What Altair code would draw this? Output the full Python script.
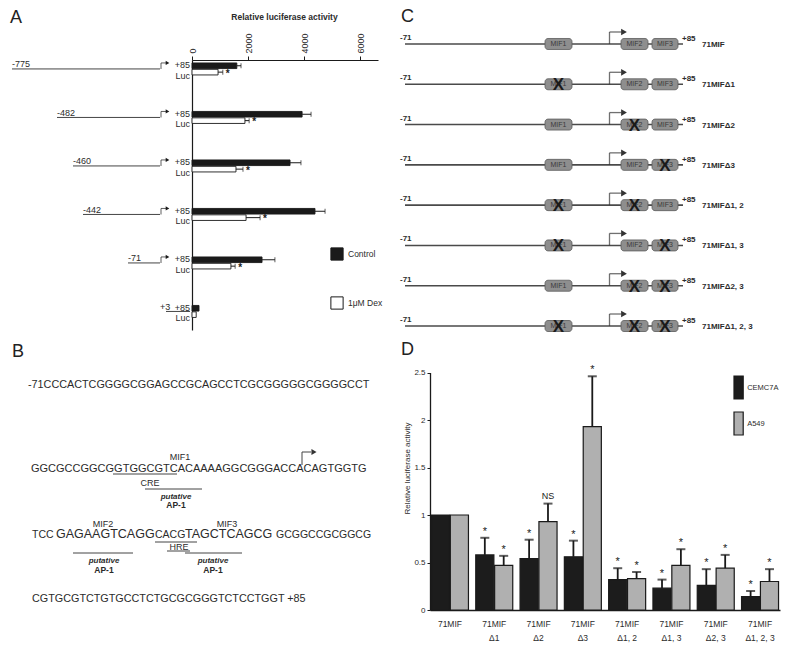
import altair as alt
import pandas as pd

M = 8
def P(v):
    return v - M

W, H = 784, 642
FONT = "Liberation Sans"
INK = "#1a1a1a"
TXT = "#2b2b2b"

# ---------------- Panel A data ----------------
a_constructs = ["-775", "-482", "-460", "-442", "-71", "+3"]
a_treatments = ["Control", "1μM Dex"]
a_control = [1600, 3930, 3500, 4390, 2500, 250]
a_control_hi = [1750, 4250, 3890, 4750, 2960, 250]
a_dex = [930, 1890, 1570, 1930, 1390, 150]
a_dex_hi = [1100, 2040, 1820, 2430, 1540, 150]
a_dex_sig = ["*", "*", "*", "*", "*", ""]
a_ticks = [0, 2000, 4000, 6000]

# ---------------- Panel D data ----------------
d_categories = ["71MIF", "71MIF|Δ1", "71MIF|Δ2", "71MIF|Δ3",
                "71MIF|Δ1, 2", "71MIF|Δ1, 3", "71MIF|Δ2, 3", "71MIF|Δ1, 2, 3"]
d_cells = ["CEMC7A", "A549"]
d_cem = [1.0, 0.58, 0.54, 0.56, 0.32, 0.23, 0.26, 0.14]
d_cem_hi = [1.0, 0.76, 0.74, 0.73, 0.44, 0.32, 0.43, 0.20]
d_cem_sig = ["", "*", "*", "*", "*", "*", "*", "*"]
d_a549 = [1.0, 0.47, 0.93, 1.93, 0.33, 0.47, 0.44, 0.30]
d_a549_hi = [1.0, 0.57, 1.12, 2.46, 0.40, 0.64, 0.58, 0.43]
d_a549_sig = ["", "*", "NS", "*", "*", "*", "*", "*"]
d_ticks = [0, 0.5, 1, 1.5, 2, 2.5]

# ---------------- Panel C data ----------------
c_constructs = ["71MIF", "71MIFΔ1", "71MIFΔ2", "71MIFΔ3",
                "71MIFΔ1, 2", "71MIFΔ1, 3", "71MIFΔ2, 3", "71MIFΔ1, 2, 3"]
c_elements = ["MIF1", "MIF2", "MIF3"]
c_deleted = [[], ["MIF1"], ["MIF2"], ["MIF3"], ["MIF1", "MIF2"],
             ["MIF1", "MIF3"], ["MIF2", "MIF3"], ["MIF1", "MIF2", "MIF3"]]

# ---------------- Panel B text ----------------
b_seq1 = "-71CCCACTCGGGGCGGAGCCGCAGCCTCGCGGGGGCGGGGCCT"
b_seq2 = "GGCGCCGGCGGTGGCGTCACAAAAGGCGGGACCACAGTGGTG"
b_seq3 = ["TCC", "GAGAAGTCAGG", "CACG", "TAGCTCAGCG", "GCGGCCGCGGCG"]
b_seq4 = "CGTGCGTCTGTGCCTCTGCGCGGGTCTCCTGGT +85"

# ---------------- layout (pixels) ----------------
a_line_start = [12, 57, 73, 83, 128, 166]
a_line_end = [160, 160, 160, 160, 160, 190]
a_label_x = [12, 57, 73, 83, 128, 160]
a_has_promoter = [1, 1, 1, 1, 1, 0]
c_elem_px = {"MIF1": (545, 572), "MIF2": (621, 648), "MIF3": (652, 678)}

layers = []

# ---------------- Panel letters ----------------
letters = pd.DataFrame({"t": ["A", "B", "C", "D"],
                        "x": [P(10), P(12), P(401), P(401)],
                        "y": [P(23), P(357), P(22), P(355)]})
layers.append(alt.Chart(letters).mark_text(align="left", baseline="alphabetic", fontSize=18,
                                           color="#222", font=FONT).encode(
    x=alt.X("x:Q", scale=None, axis=None), y=alt.Y("y:Q", scale=None, axis=None), text="t:N"))

# ================= Panel A =================
a_rows = []
for i, c in enumerate(a_constructs):
    a_rows.append({"construct": c, "treatment": a_treatments[0], "value": a_control[i],
                   "hi": a_control_hi[i], "sig": ""})
    a_rows.append({"construct": c, "treatment": a_treatments[1], "value": a_dex[i],
                   "hi": a_dex_hi[i], "sig": a_dex_sig[i]})
a_df = pd.DataFrame(a_rows)

ax_scale = alt.Scale(domain=[0, 6640], range=[P(192), P(378)], nice=False)
ay_scale = alt.Scale(type="band", domain=a_constructs, range=[P(60), P(330)], paddingInner=0.753,
                     paddingOuter=0.16, align=0.19)
ayo_scale = alt.Scale(type="band", domain=a_treatments, range=[0, 12], paddingInner=0.12,
                      paddingOuter=0)

def aY(axis=None):
    return alt.Y("construct:N", scale=ay_scale, axis=axis, sort=None)

def aYO():
    return alt.YOffset("treatment:N", scale=ayo_scale, sort=None)

a_xaxis = alt.Axis(orient="top", offset=-P(60), values=a_ticks, format="d", labelAngle=270,
                   labelAlign="left", labelBaseline="middle", labelFontSize=9, labelColor=TXT,
                   labelPadding=3, tickSize=4, tickColor=INK, domainColor=INK, domainWidth=1.2,
                   grid=False, title="Relative luciferase activity", titleFontSize=8.5,
                   titleFontWeight="bold", titleColor=TXT, titleX=P(284), titleY=P(19) - P(60),
                   titleAlign="center", titleBaseline="alphabetic", titleAngle=0)
a_yaxis = alt.Axis(orient="left", offset=-P(192), labels=False, ticks=False, title=None,
                   grid=False, domainColor=INK, domainWidth=1.2)

a_legend = alt.Legend(orient="none", legendX=P(330), legendY=P(247), title=None,
                      symbolType="square", symbolSize=150, symbolStrokeColor=INK,
                      symbolStrokeWidth=1, rowPadding=31, labelFontSize=8.5, labelColor=TXT,
                      labelOffset=4, padding=0, labelFont=FONT)

layers.append(alt.Chart(a_df).mark_bar(stroke=INK, strokeWidth=0.9).encode(
    x=alt.X("value:Q", scale=ax_scale, axis=a_xaxis),
    y=aY(a_yaxis), yOffset=aYO(),
    fill=alt.Fill("treatment:N", scale=alt.Scale(domain=a_treatments, range=[INK, "#ffffff"]),
                  legend=a_legend, sort=None)))

a_err_base = alt.Chart(a_df).transform_filter("datum.hi > datum.value")
layers.append(a_err_base.mark_rule(color=INK, strokeWidth=1).encode(
    x=alt.X("value:Q", scale=ax_scale, axis=None), x2="hi:Q", y=aY(), yOffset=aYO()))
layers.append(a_err_base.mark_tick(orient="vertical", size=5, thickness=1, color=INK).encode(
    x=alt.X("hi:Q", scale=ax_scale, axis=None), y=aY(), yOffset=aYO()))
layers.append(alt.Chart(a_df).transform_filter("datum.sig != ''").mark_text(
    align="left", baseline="middle", dx=3, dy=1.5, fontSize=10, fontWeight="bold", color=INK,
    font=FONT).encode(
    x=alt.X("hi:Q", scale=ax_scale, axis=None), y=aY(), yOffset=aYO(), text="sig:N"))

# construct diagrams left of the axis
a_diag = pd.DataFrame({"construct": a_constructs,
                       "x0": [P(v) for v in a_line_start],
                       "x1": [P(v) for v in a_line_end],
                       "lx": [P(v) for v in a_label_x],
                       "prom": a_has_promoter})
ad = alt.Chart(a_diag)
layers.append(ad.mark_rule(color="#444", strokeWidth=1).encode(
    x=alt.X("x0:Q", scale=None, axis=None), x2="x1:Q", y=aY()))
layers.append(ad.mark_text(align="left", baseline="alphabetic", dy=-1.5, fontSize=9, color=TXT,
                           font=FONT).encode(
    x=alt.X("lx:Q", scale=None, axis=None), y=aY(), text="construct:N"))
layers.append(ad.mark_text(align="right", baseline="alphabetic", dy=-0.5, fontSize=9, color=TXT,
                           font=FONT).encode(
    x=alt.value(P(190)), y=aY(), text=alt.value("+85")))
layers.append(ad.mark_text(align="right", baseline="alphabetic", dy=10, fontSize=9, color=TXT,
                           font=FONT).encode(
    x=alt.value(P(190)), y=aY(), text=alt.value("Luc")))
adp = ad.transform_filter("datum.prom == 1")
layers.append(adp.mark_tick(orient="vertical", size=6, thickness=1, color=INK, yOffset=-3).encode(
    x=alt.value(P(161)), y=aY()))
layers.append(adp.mark_tick(orient="horizontal", size=5, thickness=1, color=INK, yOffset=-6).encode(
    x=alt.value(P(163.5)), y=aY()))
layers.append(adp.mark_point(shape="triangle-right", size=18, filled=True, color=INK, opacity=1,
                             yOffset=-6).encode(x=alt.value(P(167.5)), y=aY()))

# ================= Panel C =================
c_scale = alt.Scale(type="band", domain=c_constructs, range=[P(44) - 20.15, P(326) + 20.15],
                    paddingInner=0, paddingOuter=0)

def cY():
    return alt.Y("construct:N", scale=c_scale, axis=None, sort=None)

c_rows_df = pd.DataFrame({"construct": c_constructs})
cr = alt.Chart(c_rows_df)
layers.append(cr.mark_rule(color="#4a4a4a", strokeWidth=1.6).encode(
    x=alt.value(P(405)), x2=alt.value(P(683)), y=cY()))

c_box_rows = []
for i, c in enumerate(c_constructs):
    for e in c_elements:
        x0, x1 = c_elem_px[e]
        c_box_rows.append({"construct": c, "element": e, "x0": P(x0), "x1": P(x1),
                           "xc": P((x0 + x1) / 2), "deleted": int(e in c_deleted[i])})
c_box_df = pd.DataFrame(c_box_rows)
cb = alt.Chart(c_box_df)
layers.append(cb.mark_bar(size=11, cornerRadius=3, fill="#8e8e8e", stroke="#5a5a5a",
                          strokeWidth=0.8).encode(
    x=alt.X("x0:Q", scale=None, axis=None), x2="x1:Q", y=cY()))
layers.append(cb.mark_text(fontSize=7, color="#3a3a3a", baseline="middle", font=FONT).encode(
    x=alt.X("xc:Q", scale=None, axis=None), y=cY(), text="element:N"))
layers.append(cb.transform_filter("datum.deleted == 1").mark_text(
    fontSize=17, fontWeight="bold", color="#1a1a1a", baseline="middle", dy=1, font=FONT).encode(
    x=alt.X("xc:Q", scale=None, axis=None), y=cY(), text=alt.value("X")))

layers.append(cr.mark_tick(orient="vertical", size=12, thickness=1.3, color="#333",
                           yOffset=-6).encode(x=alt.value(P(609.5)), y=cY()))
layers.append(cr.mark_tick(orient="horizontal", size=12, thickness=1.3, color="#333",
                           yOffset=-12).encode(x=alt.value(P(615.5)), y=cY()))
layers.append(cr.mark_point(shape="triangle-right", size=45, filled=True, color="#333", opacity=1,
                            yOffset=-12).encode(x=alt.value(P(624)), y=cY()))
layers.append(cr.mark_text(align="left", baseline="alphabetic", dy=-4, fontSize=8,
                           fontWeight="bold", color=TXT, font=FONT).encode(
    x=alt.value(P(400)), y=cY(), text=alt.value("-71")))
layers.append(cr.mark_text(align="left", baseline="alphabetic", dy=-3, fontSize=8,
                           fontWeight="bold", color=TXT, font=FONT).encode(
    x=alt.value(P(682)), y=cY(), text=alt.value("+85")))
layers.append(cr.mark_text(align="left", baseline="alphabetic", dy=3, fontSize=8,
                           fontWeight="bold", color=TXT, font=FONT).encode(
    x=alt.value(P(702)), y=cY(), text="construct:N"))

# ================= Panel B =================
b_text = pd.DataFrame([
    {"t": b_seq1, "x": P(28), "y": P(388), "s": 10.8},
    {"t": b_seq2, "x": P(31), "y": P(472), "s": 11},
    {"t": b_seq3[0], "x": P(32), "y": P(538), "s": 10.5},
    {"t": b_seq3[1], "x": P(56), "y": P(538), "s": 12.5},
    {"t": b_seq3[2], "x": P(155), "y": P(538), "s": 10.5},
    {"t": b_seq3[3], "x": P(185), "y": P(538), "s": 12.5},
    {"t": b_seq3[4], "x": P(276), "y": P(538), "s": 10.5},
    {"t": b_seq4, "x": P(32), "y": P(602), "s": 10.8},
])
layers.append(alt.Chart(b_text).mark_text(align="left", baseline="alphabetic", color=TXT,
                                          font=FONT).encode(
    x=alt.X("x:Q", scale=None, axis=None), y=alt.Y("y:Q", scale=None, axis=None),
    size=alt.Size("s:Q", scale=None, legend=None), text="t:N"))

b_labels = pd.DataFrame([
    {"t": "MIF1", "x": P(180), "y": P(460)},
    {"t": "CRE", "x": P(150), "y": P(486)},
    {"t": "MIF2", "x": P(103), "y": P(527)},
    {"t": "MIF3", "x": P(227), "y": P(527)},
    {"t": "HRE", "x": P(179), "y": P(550)},
])
layers.append(alt.Chart(b_labels).mark_text(align="center", baseline="alphabetic", fontSize=9,
                                            color=TXT, font=FONT).encode(
    x=alt.X("x:Q", scale=None, axis=None), y=alt.Y("y:Q", scale=None, axis=None), text="t:N"))

b_put = pd.DataFrame([
    {"x": P(176), "y1": P(499), "y2": P(508)},
    {"x": P(104), "y1": P(563), "y2": P(573)},
    {"x": P(213), "y1": P(563), "y2": P(573)},
])
layers.append(alt.Chart(b_put).mark_text(align="center", baseline="alphabetic", fontSize=8,
                                         fontWeight="bold", fontStyle="italic", color=TXT,
                                         font=FONT).encode(
    x=alt.X("x:Q", scale=None, axis=None), y=alt.Y("y1:Q", scale=None, axis=None),
    text=alt.value("putative")))
layers.append(alt.Chart(b_put).mark_text(align="center", baseline="alphabetic", fontSize=8.5,
                                         fontWeight="bold", color=TXT, font=FONT).encode(
    x=alt.X("x:Q", scale=None, axis=None), y=alt.Y("y2:Q", scale=None, axis=None),
    text=alt.value("AP-1")))

b_rules = pd.DataFrame([
    {"x0": P(113), "x1": P(177), "y": P(474)},
    {"x0": P(145), "x1": P(202), "y": P(489)},
    {"x0": P(155), "x1": P(197), "y": P(542)},
    {"x0": P(167), "x1": P(190), "y": P(551)},
    {"x0": P(73), "x1": P(133), "y": P(553)},
    {"x0": P(185), "x1": P(242), "y": P(553)},
    {"x0": P(302), "x1": P(311), "y": P(452)},
])
layers.append(alt.Chart(b_rules).mark_rule(color="#444", strokeWidth=1).encode(
    x=alt.X("x0:Q", scale=None, axis=None), x2="x1:Q", y=alt.Y("y:Q", scale=None, axis=None)))
b_vert = pd.DataFrame([{"x": P(302), "y0": P(465), "y1": P(452)}])
layers.append(alt.Chart(b_vert).mark_rule(color="#444", strokeWidth=1).encode(
    x=alt.X("x:Q", scale=None, axis=None), y=alt.Y("y0:Q", scale=None, axis=None), y2="y1:Q"))
b_head = pd.DataFrame([{"x": P(314), "y": P(452)}])
layers.append(alt.Chart(b_head).mark_point(shape="triangle-right", size=35, filled=True,
                                           color="#333", opacity=1).encode(
    x=alt.X("x:Q", scale=None, axis=None), y=alt.Y("y:Q", scale=None, axis=None)))

# ================= Panel D =================
d_rows = []
for i, c in enumerate(d_categories):
    d_rows.append({"cat": c, "cell": "CEMC7A", "value": d_cem[i], "hi": d_cem_hi[i],
                   "sig": d_cem_sig[i]})
    d_rows.append({"cat": c, "cell": "A549", "value": d_a549[i], "hi": d_a549_hi[i],
                   "sig": d_a549_sig[i]})
d_df = pd.DataFrame(d_rows)

dx_scale = alt.Scale(type="band", domain=d_categories, range=[P(430), P(780)],
                     paddingInner=0.165, paddingOuter=0.033)
dxo_scale = alt.Scale(type="band", domain=d_cells, paddingInner=0.04, paddingOuter=0)
dy_scale = alt.Scale(domain=[0, 2.5], range=[P(610), P(372.5)], nice=False)

d_xaxis = alt.Axis(orient="bottom", offset=-(H - P(610)), labelExpr="split(datum.label, '|')",
                   labelLineHeight=14, ticks=False, labelPadding=9, labelFontSize=8.5,
                   labelColor=TXT, labelAngle=0, labelBaseline="top", domainColor=INK,
                   domainWidth=1.3, title=None, grid=False, labelOverlap=False, labelFont=FONT)
d_yaxis = alt.Axis(orient="left", offset=-P(430), values=d_ticks, format="~g", tickSize=3,
                   tickColor=INK, labelFontSize=8, labelPadding=2, labelColor=TXT,
                   domainColor=INK, domainWidth=1.3, grid=False,
                   title="Relative luciferase activity", titleFontSize=8,
                   titleFontWeight="normal", titleColor=TXT, titleX=-19, titleY=P(468),
                   titleAngle=270, titleAlign="center", titleBaseline="bottom", labelFont=FONT,
                   titleFont=FONT)
d_legend = alt.Legend(orient="none", legendX=P(733) - 13.8, legendY=P(375), title=None,
                      symbolType="M0.2,-1H1V1H0.2Z", symbolSize=529,
                      symbolStrokeColor=INK, symbolStrokeWidth=1.2, rowPadding=7,
                      labelFontSize=7.5, labelColor=TXT, labelOffset=3, padding=0,
                      labelFont=FONT)

def dX(axis=None):
    return alt.X("cat:N", scale=dx_scale, axis=axis, sort=None)

def dXO():
    return alt.XOffset("cell:N", scale=dxo_scale, sort=None)

layers.append(alt.Chart(d_df).mark_bar(stroke=INK, strokeWidth=1.2).encode(
    x=dX(d_xaxis), xOffset=dXO(),
    y=alt.Y("value:Q", scale=dy_scale, axis=d_yaxis),
    fill=alt.Fill("cell:N", scale=alt.Scale(domain=d_cells, range=["#1c1c1c", "#b0b0b0"]),
                  legend=d_legend, sort=None)))
d_err = alt.Chart(d_df).transform_filter("datum.hi > datum.value")
layers.append(d_err.mark_rule(color=INK, strokeWidth=1.8).encode(
    x=dX(), xOffset=dXO(), y=alt.Y("value:Q", scale=dy_scale, axis=None), y2="hi:Q"))
layers.append(d_err.mark_tick(orient="horizontal", size=9, thickness=2, color=INK).encode(
    x=dX(), xOffset=dXO(), y=alt.Y("hi:Q", scale=dy_scale, axis=None)))
layers.append(alt.Chart(d_df).transform_filter("datum.sig == '*'").mark_text(
    baseline="alphabetic", dy=-3, fontSize=11, color=INK, font=FONT).encode(
    x=dX(), xOffset=dXO(), y=alt.Y("hi:Q", scale=dy_scale, axis=None), text="sig:N"))
layers.append(alt.Chart(d_df).transform_filter("datum.sig == 'NS'").mark_text(
    baseline="alphabetic", dy=-5, fontSize=9, color=INK, font=FONT).encode(
    x=dX(), xOffset=dXO(), y=alt.Y("hi:Q", scale=dy_scale, axis=None), text="sig:N"))

chart = alt.layer(*layers).resolve_scale(
    x="independent", y="independent", xOffset="independent", yOffset="independent",
    fill="independent", size="independent"
).resolve_axis(x="independent", y="independent").resolve_legend(fill="independent").properties(
    width=W, height=H, padding=0, autosize=alt.AutoSizeParams(type="none")
).configure(font=FONT, background="white").configure_view(stroke=None).configure_axis(grid=False)

chart.save("out.html", embed_options={"renderer": "svg", "actions": False})
